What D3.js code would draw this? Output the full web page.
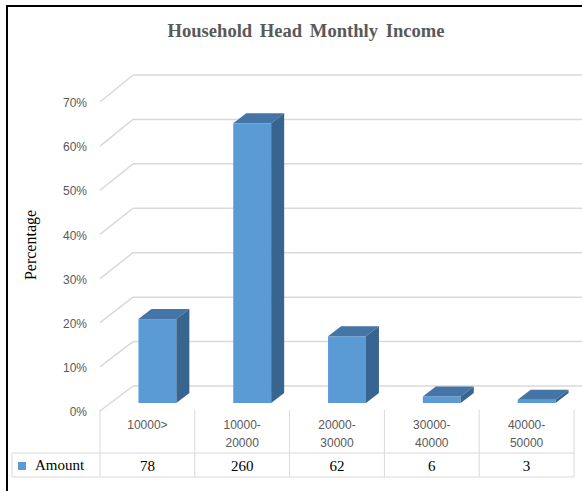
<!DOCTYPE html>
<html>
<head>
<meta charset="utf-8">
<script src="https://cdn.jsdelivr.net/npm/d3@7"></script>
<style>
  html, body { margin: 0; padding: 0; background: #fff; }
  svg { display: block; }
</style>
</head>
<body>
<div id="chart"></div>
<script>
// Data
const categories = ['10000>', '10000-20000', '20000-30000', '30000-40000', '40000-50000'];
const catLines = [['10000>'], ['10000-', '20000'], ['20000-', '30000'], ['30000-', '40000'], ['40000-', '50000']];
const amounts = [78, 260, 62, 6, 3];
const tickValues = [0, 0.1, 0.2, 0.3, 0.4, 0.5, 0.6, 0.7];

const W = 582, H = 491;
const total = d3.sum(amounts);
const share = amounts.map(a => a / total); // percentage of households

const svg = d3.select('#chart').append('svg')
  .attr('width', W).attr('height', H);

// Frame (screenshot border, left + top only)
svg.append('line').attr('x1', 7).attr('x2', 7).attr('y1', 6).attr('y2', H)
  .attr('stroke', '#000').attr('stroke-width', 2);
svg.append('line').attr('x1', 6).attr('x2', W).attr('y1', 6).attr('y2', 6)
  .attr('stroke', '#000').attr('stroke-width', 2);

// Scales
const x = d3.scaleBand().domain(categories).range([100, 574]).padding(0);
const yFront = d3.scaleLinear().domain([0, 0.7]).range([411, 102]);
const yBack = d3.scaleLinear().domain([0, 0.7]).range([386, 75]);
const yBar = d3.scaleLinear().domain([0, 0.7]).range([403, 95]);
const wallX0 = 100, wallX1 = 133; // perspective offset of back wall
const depth = { dx: 13, dy: 10 };
const grid = '#d9d9d9';

// Title
svg.append('text')
  .attr('x', 306).attr('y', 37)
  .attr('text-anchor', 'middle')
  .attr('font-family', '"Liberation Serif", "Times New Roman", serif')
  .attr('font-weight', 'bold')
  .attr('font-size', 18.6)
  .attr('fill', '#595959')
  .attr('word-spacing', 3)
  .text('Household Head Monthly Income');

// Gridlines: back wall + side diagonal
const gGrid = svg.append('g');
tickValues.forEach(t => {
  gGrid.append('line')
    .attr('x1', wallX1).attr('x2', W)
    .attr('y1', yBack(t)).attr('y2', yBack(t))
    .attr('stroke', grid).attr('stroke-width', 1.5);
  gGrid.append('line')
    .attr('x1', wallX0).attr('x2', wallX1)
    .attr('y1', yFront(t)).attr('y2', yBack(t))
    .attr('stroke', grid).attr('stroke-width', 1.5);
});

// Y tick labels
svg.append('g').selectAll('text').data(tickValues).join('text')
  .attr('x', 87)
  .attr('y', d => yFront(d) + 1)
  .attr('dy', '0.35em')
  .attr('text-anchor', 'end')
  .attr('font-family', '"Liberation Sans", Arial, sans-serif')
  .attr('font-size', 12)
  .attr('fill', '#595959')
  .text(d => d3.format('.0%')(d));

// Y axis title
svg.append('text')
  .attr('transform', 'translate(36,245) rotate(-90)')
  .attr('text-anchor', 'middle')
  .attr('font-family', '"Liberation Serif", "Times New Roman", serif')
  .attr('font-size', 16)
  .attr('fill', '#000')
  .text('Percentage');

// 3D bars
const bw = x.bandwidth() * 0.4;
const bx = d => x(d.cat) + x.bandwidth() * 0.3 + 10;
const bars = svg.append('g').selectAll('g')
  .data(categories.map((c, i) => ({ cat: c, v: share[i] })))
  .join('g');

bars.append('rect')
  .attr('x', bx)
  .attr('y', d => yBar(d.v))
  .attr('width', bw)
  .attr('height', d => yBar(0) - yBar(d.v))
  .attr('fill', '#5b9bd5');

bars.append('path')
  .attr('d', d => {
    const x0 = bx(d), y0 = yBar(d.v);
    return `M${x0},${y0}L${x0 + depth.dx},${y0 - depth.dy}L${x0 + bw + depth.dx},${y0 - depth.dy}L${x0 + bw},${y0}Z`;
  })
  .attr('fill', '#4575a6');

bars.append('path')
  .attr('d', d => {
    const x1 = bx(d) + bw, y0 = yBar(d.v), yb = yBar(0);
    return `M${x1},${y0}L${x1 + depth.dx},${y0 - depth.dy}L${x1 + depth.dx},${yb - depth.dy}L${x1},${yb}Z`;
  })
  .attr('fill', '#386590');

// Data table
const tTop = 410, tMid = 453, tBot = 477, tLeft = 12;
const gTable = svg.append('g').attr('stroke', grid).attr('stroke-width', 1);
gTable.append('line').attr('x1', tLeft).attr('x2', 574).attr('y1', tMid).attr('y2', tMid);
gTable.append('line').attr('x1', tLeft).attr('x2', 574).attr('y1', tBot).attr('y2', tBot);
gTable.append('line').attr('x1', tLeft).attr('x2', tLeft).attr('y1', tMid).attr('y2', tBot);
gTable.selectAll('line.col').data(categories.concat(['end'])).join('line')
  .attr('class', 'col')
  .attr('x1', (d, i) => i < categories.length ? x(d) : x.range()[1])
  .attr('x2', (d, i) => i < categories.length ? x(d) : x.range()[1])
  .attr('y1', tTop).attr('y2', tBot);

// Category labels
svg.append('g').selectAll('text').data(categories).join('text')
  .attr('x', d => x(d) + x.bandwidth() / 2)
  .attr('y', 429)
  .attr('text-anchor', 'middle')
  .attr('font-family', '"Liberation Sans", Arial, sans-serif')
  .attr('font-size', 12)
  .attr('fill', '#595959')
  .each(function(d, i) {
    d3.select(this).selectAll('tspan').data(catLines[i]).join('tspan')
      .attr('x', x(d) + x.bandwidth() / 2)
      .attr('dy', (t, j) => j === 0 ? 0 : 18)
      .text(t => t);
  });

// Legend cell
svg.append('rect')
  .attr('x', 18).attr('y', 462).attr('width', 8).attr('height', 8)
  .attr('fill', '#5b9bd5');
svg.append('text')
  .attr('x', 35).attr('y', 470)
  .attr('font-family', '"Liberation Serif", "Times New Roman", serif')
  .attr('font-size', 15)
  .attr('fill', '#000')
  .text('Amount');

// Amount values
svg.append('g').selectAll('text').data(amounts).join('text')
  .attr('x', (d, i) => x(categories[i]) + x.bandwidth() / 2)
  .attr('y', 471)
  .attr('text-anchor', 'middle')
  .attr('font-family', '"Liberation Serif", "Times New Roman", serif')
  .attr('font-size', 15)
  .attr('fill', '#000')
  .text(d => d);
</script>
</body>
</html>
